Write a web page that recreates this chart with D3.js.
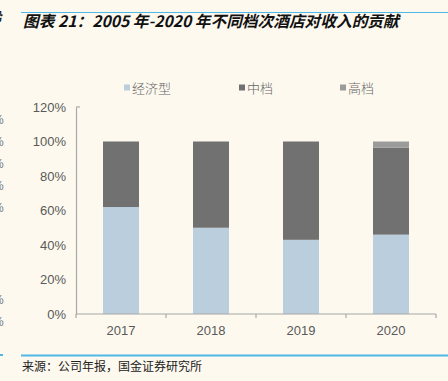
<!DOCTYPE html>
<html><head><meta charset="utf-8">
<script src="https://cdn.jsdelivr.net/npm/d3@7/dist/d3.min.js"></script>
<style>
html,body{margin:0;padding:0;background:#FDF9EF;}
svg{display:block;}
</style></head>
<body><svg id="c" width="448" height="381"></svg>
<script>
const categories = ["2017", "2018", "2019", "2020"];
const seriesNames = ["经济型", "中档", "高档"];
const economy = [62, 50, 43, 46];
const midscale = [38, 50, 57, 50.5];
const upscale = [0, 0, 0, 3.5];
const yTicks = [0, 20, 40, 60, 80, 100, 120];
const colors = ["#BBCEDE", "#717171", "#9B9B9B"];

const svg = d3.select("#c");
const font = "'Liberation Sans', Arial, 'Noto Sans CJK SC', sans-serif";

// left margin fragments from the neighbouring column
svg.append("text").attr("x", -9).attr("y", 21).attr("font-size", 12).attr("font-weight", "bold")
  .attr("font-family", "'Noto Sans CJK SC'").attr("fill", "#222").text("势");
[124, 146, 168, 190, 212, 304, 326].forEach(y => {
  svg.append("text").attr("x", -7).attr("y", y).attr("font-size", 12).attr("font-family", font)
    .attr("fill", "#777").text("%");
});
svg.append("rect").attr("x", 0).attr("y", 354).attr("width", 3).attr("height", 2).attr("fill", "#4FB8E6");

// title
svg.append("line").attr("x1", 21).attr("x2", 448).attr("y1", 12.5).attr("y2", 12.5)
  .attr("stroke", "#4FB8E6").attr("stroke-width", 1.2);
svg.append("text").attr("x", 23).attr("y", 26.5).attr("font-size", 15.7).attr("font-weight", "bold")
  .attr("font-style", "italic").attr("font-family", "'Noto Sans CJK SC', sans-serif")
  .attr("fill", "#111")
  .text("图表 21：2005 年-2020 年不同档次酒店对收入的贡献");

// scales
const x = d3.scaleBand().domain(categories).range([76, 436]).paddingInner(0.6).paddingOuter(0.3);
const xb = d3.scaleBand().domain(categories).range([76, 436]);
const y = d3.scaleLinear().domain([0, 120]).range([314, 107]);

// y axis
const yAxis = svg.append("g").attr("transform", "translate(76,0)")
  .call(d3.axisLeft(y).tickValues(yTicks).tickFormat(d => d + "%").tickSize(0).tickPadding(10));
yAxis.select(".domain").attr("stroke", "#A8A8A8").attr("stroke-width", 1.2);
yAxis.selectAll("text").attr("font-size", 13).attr("font-family", font).attr("fill", "#595959");
svg.append("line").attr("x1", 76).attr("x2", 80).attr("y1", y(120)).attr("y2", y(120))
  .attr("stroke", "#A8A8A8").attr("stroke-width", 1.2);

// stacked bars
const rows = categories.map((c, i) => ({cat: c, s0: economy[i], s1: midscale[i], s2: upscale[i]}));
const stack = d3.stack().keys(["s0", "s1", "s2"])(rows);
stack.forEach((layer, li) => {
  svg.append("g").selectAll("rect").data(layer).join("rect")
    .attr("x", d => x(d.data.cat))
    .attr("width", x.bandwidth())
    .attr("y", d => y(d[1]))
    .attr("height", d => Math.max(0, y(d[0]) - y(d[1])))
    .attr("fill", colors[li]);
});

// x axis
const xAxisG = svg.append("g").attr("transform", `translate(0,${y(0)})`);
xAxisG.append("line").attr("x1", 76).attr("x2", 436).attr("y1", 0).attr("y2", 0)
  .attr("stroke", "#A8A8A8").attr("stroke-width", 1.2);
const bounds = categories.map(c => xb(c)).concat([436]);
xAxisG.selectAll("line.tk").data(bounds).join("line").attr("class", "tk")
  .attr("x1", d => d).attr("x2", d => d).attr("y1", 0).attr("y2", 4)
  .attr("stroke", "#A8A8A8").attr("stroke-width", 1.2);
xAxisG.selectAll("text").data(categories).join("text")
  .attr("x", d => xb(d) + xb.bandwidth() / 2).attr("y", 21)
  .attr("text-anchor", "middle").attr("font-size", 13).attr("font-family", font)
  .attr("fill", "#595959").text(d => d);

// legend
const legX = [124, 239, 340];
seriesNames.forEach((n, i) => {
  const g = svg.append("g").attr("transform", `translate(${legX[i]},88)`);
  g.append("rect").attr("x", 0).attr("y", -3.5).attr("width", 6).attr("height", 6).attr("fill", colors[i]);
  g.append("text").attr("x", 8).attr("y", 0).attr("dy", "0.35em").attr("font-size", 13)
    .attr("font-family", "'Noto Sans CJK SC', sans-serif").attr("font-weight", 300)
    .attr("fill", "#666").text(n);
});

// footer
svg.append("line").attr("x1", 21).attr("x2", 448).attr("y1", 355.5).attr("y2", 355.5)
  .attr("stroke", "#4FB8E6").attr("stroke-width", 2);
svg.append("text").attr("x", 22).attr("y", 371).attr("font-size", 12)
  .attr("font-family", "'Noto Sans CJK SC', sans-serif").attr("fill", "#222")
  .text("来源：公司年报，国金证券研究所");
</script></body></html>
